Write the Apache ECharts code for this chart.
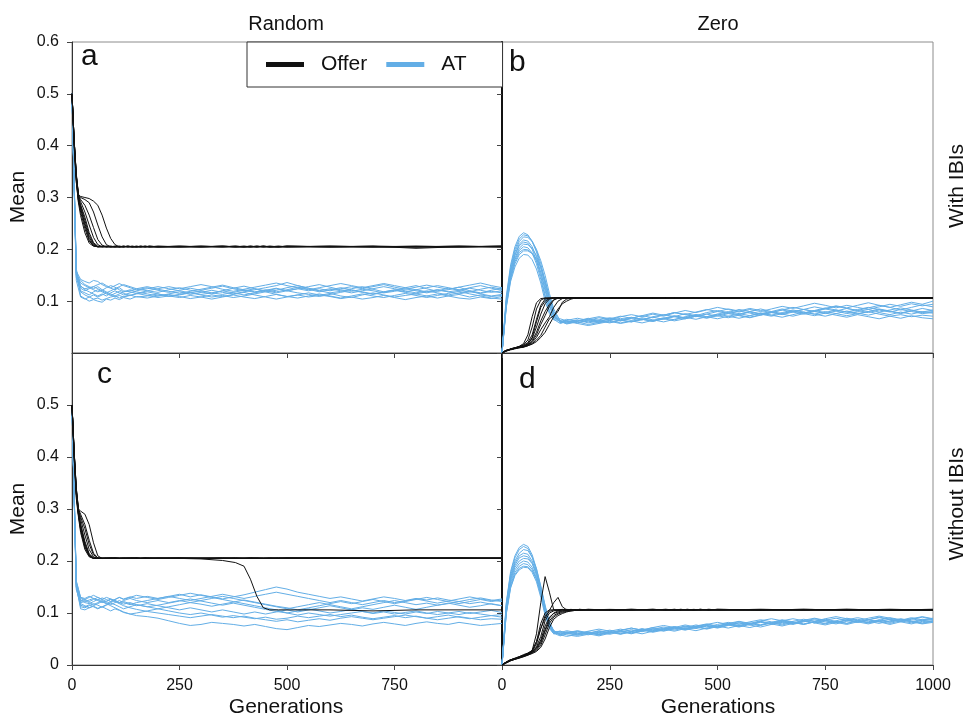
<!DOCTYPE html>
<html>
<head>
<meta charset="utf-8">
<script src="https://cdn.jsdelivr.net/npm/echarts/dist/echarts.min.js"></script>
<style>html,body{margin:0;padding:0;background:#fff;}#chart{width:967px;height:719px;}</style>
</head>
<body>
<div id="chart"></div>
<script>
// ---------- x values (generations) ----------
const genAT = [0,10,20,30,40,50,60,70,80,90,
  100,110,120,135,150,175,200,225,250,275,
  300,325,350,375,400,425,450,475,500,525,
  550,575,600,625,650,675,700,725,750,775,
  800,825,850,875,900,925,950,975,1000];
const genOffer = [0,5,10,15,20,30,40,50,60,70,
  80,90,100,110,120,130,140,150,160,170,
  180,200,250,300,350,380,400,415,430,445,
  460,480,500,600,700,800,900,1000];

// ---------- tick labels / titles ----------
const colTitles = ['Random','Zero'];
const rowTitles = ['With IBIs','Without IBIs'];
const panelLetters = ['a','b','c','d'];
const xTicks = [0,250,500,750,1000];
const yTicks = [0,0.1,0.2,0.3,0.4,0.5,0.6];

// ---------- panel a (Random, with IBIs) ----------
const atA = [
 [0.5,0.158,0.142,0.138,0.135,0.14,0.138,0.132,0.128,0.125, 0.122,0.126,0.12,0.118,0.115,0.12,0.117,0.122,0.126,0.121, 0.118,0.114,0.12,0.125,0.129,0.124,0.118,0.121,0.126,0.13, 0.125,0.12,0.116,0.119,0.124,0.128,0.123,0.118,0.121,0.126, 0.13,0.124,0.119,0.122,0.127,0.12,0.116,0.121,0.125],
 [0.5,0.152,0.118,0.112,0.108,0.104,0.106,0.102,0.105,0.108, 0.11,0.106,0.109,0.112,0.108,0.11,0.114,0.109,0.112,0.116, 0.112,0.108,0.111,0.107,0.11,0.114,0.118,0.113,0.109,0.112, 0.108,0.111,0.115,0.11,0.107,0.112,0.116,0.112,0.108,0.111, 0.114,0.11,0.106,0.11,0.113,0.108,0.112,0.109,0.111],
 [0.5,0.148,0.128,0.124,0.126,0.122,0.118,0.121,0.126,0.13, 0.127,0.122,0.118,0.12,0.124,0.128,0.123,0.119,0.115,0.119, 0.123,0.127,0.131,0.126,0.122,0.118,0.121,0.125,0.12,0.124, 0.128,0.132,0.127,0.122,0.119,0.123,0.12,0.116,0.119,0.124, 0.12,0.116,0.12,0.125,0.121,0.126,0.13,0.125,0.121],
 [0.5,0.16,0.11,0.105,0.1,0.103,0.1,0.098,0.104,0.102, 0.106,0.103,0.107,0.104,0.109,0.106,0.11,0.113,0.109,0.105, 0.108,0.112,0.109,0.113,0.117,0.112,0.108,0.104,0.108,0.112, 0.116,0.112,0.109,0.105,0.108,0.104,0.107,0.111,0.107,0.103, 0.107,0.11,0.114,0.11,0.106,0.104,0.108,0.105,0.109],
 [0.5,0.155,0.135,0.13,0.126,0.128,0.124,0.12,0.116,0.12, 0.124,0.128,0.132,0.128,0.124,0.12,0.124,0.128,0.124,0.128, 0.132,0.128,0.123,0.119,0.123,0.127,0.131,0.135,0.13,0.126, 0.122,0.126,0.13,0.134,0.13,0.126,0.13,0.134,0.13,0.126, 0.122,0.126,0.13,0.126,0.122,0.118,0.123,0.127,0.123],
 [0.5,0.145,0.12,0.116,0.112,0.118,0.122,0.118,0.114,0.111, 0.115,0.119,0.115,0.111,0.114,0.118,0.114,0.11,0.113,0.117, 0.113,0.116,0.12,0.116,0.112,0.116,0.12,0.124,0.12,0.116, 0.113,0.109,0.113,0.117,0.121,0.117,0.113,0.117,0.121,0.117, 0.114,0.118,0.122,0.118,0.114,0.118,0.115,0.119,0.116],
 [0.5,0.15,0.14,0.132,0.128,0.124,0.128,0.122,0.118,0.114, 0.11,0.114,0.118,0.122,0.118,0.114,0.11,0.114,0.118,0.113, 0.117,0.121,0.117,0.114,0.118,0.122,0.126,0.13,0.136,0.13, 0.125,0.12,0.124,0.12,0.116,0.12,0.124,0.128,0.124,0.12, 0.116,0.12,0.116,0.112,0.116,0.12,0.114,0.11,0.113],
 [0.5,0.162,0.125,0.12,0.124,0.128,0.132,0.135,0.13,0.126, 0.13,0.134,0.13,0.126,0.122,0.126,0.121,0.117,0.121,0.125, 0.121,0.125,0.129,0.124,0.12,0.124,0.12,0.116,0.12,0.124, 0.12,0.124,0.12,0.124,0.128,0.124,0.128,0.132,0.127,0.123, 0.127,0.131,0.127,0.123,0.127,0.131,0.135,0.13,0.126],
 [0.5,0.14,0.108,0.104,0.108,0.112,0.108,0.112,0.116,0.112, 0.108,0.111,0.108,0.111,0.115,0.111,0.107,0.11,0.107,0.111, 0.108,0.104,0.108,0.112,0.108,0.105,0.109,0.113,0.109,0.106, 0.11,0.114,0.11,0.106,0.11,0.114,0.11,0.107,0.111,0.115, 0.111,0.107,0.111,0.115,0.119,0.114,0.11,0.106,0.104],
 [0.5,0.155,0.13,0.122,0.118,0.114,0.11,0.114,0.11,0.116, 0.12,0.116,0.112,0.116,0.12,0.124,0.128,0.124,0.12,0.116, 0.12,0.116,0.113,0.117,0.121,0.117,0.122,0.118,0.122,0.127, 0.123,0.118,0.122,0.126,0.122,0.118,0.114,0.118,0.122,0.118, 0.122,0.118,0.122,0.118,0.121,0.125,0.121,0.117,0.12]
];
const offerA = [
 [0.5,0.4,0.33,0.29,0.265,0.232,0.212,0.206,0.205,0.205, 0.206,0.205,0.205,0.205,0.206,0.205,0.205,0.205,0.206,0.205, 0.205,0.205,0.206,0.205,0.205,0.206,0.205,0.205,0.206,0.205, 0.205,0.206,0.205,0.205,0.206,0.205,0.205,0.206],
 [0.5,0.405,0.335,0.295,0.272,0.24,0.216,0.207,0.205,0.206, 0.205,0.205,0.206,0.205,0.205,0.205,0.206,0.205,0.205,0.206, 0.205,0.206,0.205,0.205,0.205,0.206,0.205,0.206,0.205,0.205, 0.206,0.205,0.205,0.205,0.206,0.205,0.206,0.205],
 [0.5,0.41,0.34,0.3,0.28,0.25,0.223,0.209,0.205,0.205, 0.205,0.206,0.205,0.205,0.206,0.205,0.205,0.206,0.205,0.205, 0.206,0.205,0.205,0.206,0.205,0.205,0.206,0.205,0.205,0.206, 0.205,0.205,0.206,0.205,0.205,0.205,0.206,0.205],
 [0.5,0.41,0.34,0.302,0.286,0.262,0.232,0.213,0.206,0.205, 0.205,0.205,0.206,0.205,0.205,0.206,0.205,0.205,0.205,0.206, 0.205,0.205,0.206,0.205,0.206,0.205,0.205,0.205,0.206,0.205, 0.205,0.206,0.205,0.206,0.205,0.205,0.205,0.206],
 [0.5,0.41,0.342,0.303,0.292,0.272,0.247,0.223,0.209,0.205, 0.205,0.206,0.205,0.205,0.205,0.206,0.205,0.205,0.206,0.205, 0.205,0.206,0.205,0.205,0.206,0.205,0.205,0.206,0.205,0.205, 0.205,0.205,0.206,0.205,0.205,0.206,0.205,0.205],
 [0.5,0.41,0.342,0.305,0.296,0.285,0.266,0.242,0.219,0.208, 0.205,0.205,0.205,0.206,0.205,0.205,0.205,0.206,0.205,0.205, 0.206,0.205,0.205,0.206,0.205,0.205,0.205,0.206,0.205,0.206, 0.205,0.205,0.205,0.206,0.205,0.205,0.206,0.205],
 [0.5,0.41,0.345,0.305,0.3,0.296,0.29,0.272,0.247,0.224, 0.209,0.205,0.205,0.205,0.206,0.205,0.205,0.205,0.206,0.205, 0.205,0.205,0.206,0.205,0.205,0.206,0.205,0.205,0.205,0.206, 0.205,0.205,0.206,0.205,0.205,0.206,0.205,0.205],
 [0.5,0.41,0.345,0.306,0.302,0.3,0.298,0.293,0.285,0.266, 0.241,0.221,0.209,0.205,0.205,0.206,0.205,0.205,0.205,0.206, 0.205,0.205,0.205,0.206,0.205,0.205,0.206,0.205,0.205,0.205, 0.206,0.205,0.205,0.205,0.206,0.202,0.205,0.206],
 [0.5,0.405,0.335,0.296,0.284,0.256,0.227,0.211,0.205,0.205, 0.206,0.205,0.205,0.205,0.205,0.206,0.205,0.205,0.205,0.205, 0.206,0.205,0.205,0.205,0.206,0.205,0.205,0.205,0.206,0.205, 0.205,0.205,0.205,0.206,0.205,0.205,0.205,0.205],
 [0.5,0.4,0.33,0.292,0.278,0.246,0.219,0.207,0.205,0.206, 0.205,0.205,0.205,0.206,0.205,0.205,0.206,0.205,0.205,0.205, 0.205,0.205,0.205,0.205,0.206,0.205,0.205,0.205,0.205,0.206, 0.205,0.205,0.206,0.205,0.205,0.205,0.205,0.206]
];

// ---------- panel b (Zero, with IBIs) ----------
const atB = [
 [0,0.11,0.17,0.205,0.225,0.232,0.228,0.215,0.195,0.165, 0.13,0.095,0.072,0.06,0.062,0.058,0.064,0.06,0.066,0.062, 0.068,0.064,0.07,0.074,0.07,0.076,0.072,0.078,0.082,0.078, 0.084,0.08,0.076,0.08,0.085,0.081,0.077,0.082,0.087,0.083, 0.079,0.084,0.088,0.084,0.08,0.076,0.081,0.086,0.082],
 [0,0.105,0.165,0.2,0.22,0.228,0.226,0.216,0.198,0.172, 0.14,0.105,0.078,0.058,0.06,0.064,0.058,0.062,0.058,0.063, 0.06,0.066,0.062,0.067,0.072,0.068,0.074,0.07,0.075,0.08, 0.076,0.072,0.077,0.073,0.078,0.083,0.079,0.075,0.08,0.076, 0.072,0.076,0.08,0.075,0.071,0.074,0.07,0.073,0.071],
 [0,0.1,0.16,0.195,0.215,0.224,0.223,0.215,0.2,0.178, 0.15,0.115,0.085,0.062,0.056,0.06,0.055,0.059,0.063,0.058, 0.062,0.058,0.063,0.068,0.064,0.07,0.074,0.07,0.066,0.071, 0.075,0.08,0.085,0.08,0.076,0.08,0.084,0.089,0.085,0.09, 0.086,0.082,0.087,0.092,0.088,0.083,0.088,0.093,0.089],
 [0,0.1,0.158,0.19,0.21,0.218,0.216,0.205,0.185,0.155, 0.12,0.09,0.07,0.06,0.065,0.061,0.066,0.07,0.066,0.071, 0.067,0.072,0.077,0.073,0.078,0.074,0.079,0.084,0.08,0.085, 0.081,0.086,0.082,0.078,0.083,0.088,0.084,0.08,0.086,0.091, 0.087,0.092,0.097,0.092,0.088,0.093,0.098,0.094,0.1],
 [0,0.098,0.155,0.188,0.207,0.214,0.212,0.2,0.178,0.148, 0.112,0.082,0.065,0.057,0.061,0.057,0.053,0.057,0.061,0.057, 0.061,0.065,0.061,0.066,0.062,0.066,0.071,0.067,0.072,0.068, 0.073,0.069,0.074,0.079,0.075,0.071,0.076,0.072,0.077,0.073, 0.069,0.074,0.07,0.066,0.071,0.067,0.072,0.068,0.066],
 [0,0.095,0.15,0.183,0.202,0.21,0.209,0.202,0.188,0.165, 0.135,0.1,0.075,0.059,0.063,0.067,0.063,0.068,0.064,0.07, 0.074,0.07,0.075,0.071,0.077,0.082,0.078,0.083,0.088,0.084, 0.079,0.084,0.08,0.085,0.09,0.086,0.091,0.096,0.092,0.087, 0.092,0.088,0.084,0.089,0.094,0.09,0.095,0.091,0.094],
 [0,0.095,0.148,0.18,0.198,0.205,0.203,0.193,0.172,0.142, 0.108,0.08,0.066,0.066,0.062,0.058,0.062,0.058,0.063,0.067, 0.063,0.068,0.064,0.06,0.065,0.069,0.065,0.07,0.075,0.071, 0.067,0.072,0.077,0.073,0.069,0.074,0.079,0.075,0.071,0.076, 0.081,0.077,0.073,0.078,0.074,0.079,0.075,0.08,0.077],
 [0,0.092,0.145,0.176,0.194,0.2,0.199,0.192,0.178,0.155, 0.125,0.092,0.07,0.06,0.057,0.061,0.065,0.061,0.066,0.062, 0.067,0.072,0.068,0.073,0.078,0.074,0.07,0.075,0.08,0.076, 0.081,0.077,0.073,0.078,0.083,0.079,0.084,0.08,0.076,0.081, 0.086,0.082,0.078,0.083,0.079,0.084,0.08,0.076,0.078],
 [0,0.09,0.142,0.172,0.19,0.197,0.197,0.192,0.182,0.165, 0.14,0.108,0.08,0.062,0.058,0.062,0.067,0.063,0.059,0.064, 0.069,0.065,0.061,0.066,0.071,0.067,0.072,0.068,0.073,0.078, 0.074,0.079,0.075,0.071,0.076,0.081,0.077,0.082,0.078,0.083, 0.079,0.075,0.08,0.085,0.081,0.077,0.082,0.078,0.08],
 [0,0.088,0.138,0.166,0.183,0.19,0.189,0.18,0.162,0.135, 0.1,0.076,0.064,0.063,0.059,0.063,0.06,0.064,0.068,0.064, 0.06,0.064,0.069,0.065,0.07,0.066,0.071,0.075,0.071,0.076, 0.072,0.068,0.073,0.078,0.074,0.079,0.075,0.08,0.085,0.081, 0.076,0.08,0.084,0.079,0.083,0.087,0.083,0.079,0.083]
];
const offerB = [
 [0,0.003,0.005,0.006,0.008,0.01,0.013,0.018,0.035,0.07, 0.097,0.105,0.106,0.106,0.107,0.106,0.106,0.107,0.106,0.106, 0.106,0.107,0.106,0.107,0.106,0.107,0.106,0.107,0.106,0.107, 0.106,0.107,0.106,0.107,0.106,0.107,0.106,0.107],
 [0,0.003,0.005,0.006,0.008,0.01,0.012,0.016,0.025,0.05, 0.085,0.102,0.106,0.106,0.106,0.107,0.106,0.106,0.107,0.106, 0.107,0.106,0.106,0.107,0.106,0.106,0.107,0.106,0.106,0.107, 0.106,0.106,0.107,0.106,0.107,0.106,0.106,0.107],
 [0,0.003,0.005,0.006,0.007,0.009,0.012,0.015,0.02,0.035, 0.065,0.092,0.104,0.106,0.106,0.106,0.107,0.106,0.106,0.106, 0.106,0.106,0.107,0.106,0.106,0.107,0.106,0.106,0.107,0.106, 0.107,0.106,0.106,0.106,0.107,0.106,0.107,0.106],
 [0,0.003,0.005,0.006,0.007,0.01,0.012,0.014,0.018,0.028, 0.05,0.075,0.095,0.104,0.106,0.106,0.106,0.107,0.106,0.106, 0.107,0.106,0.106,0.106,0.107,0.106,0.106,0.107,0.106,0.106, 0.106,0.107,0.106,0.107,0.106,0.106,0.107,0.106],
 [0,0.002,0.004,0.006,0.007,0.009,0.011,0.013,0.016,0.024, 0.04,0.062,0.08,0.094,0.103,0.106,0.106,0.106,0.107,0.106, 0.106,0.107,0.106,0.106,0.106,0.107,0.106,0.106,0.106,0.107, 0.106,0.106,0.107,0.106,0.106,0.107,0.106,0.107],
 [0,0.002,0.004,0.006,0.007,0.009,0.011,0.012,0.015,0.02, 0.03,0.045,0.058,0.07,0.088,0.1,0.105,0.106,0.106,0.107, 0.106,0.106,0.106,0.107,0.106,0.106,0.107,0.106,0.107,0.106, 0.106,0.106,0.107,0.106,0.107,0.106,0.106,0.106],
 [0,0.002,0.004,0.005,0.007,0.009,0.01,0.012,0.014,0.018, 0.025,0.034,0.05,0.066,0.072,0.08,0.098,0.104,0.106,0.106, 0.107,0.106,0.107,0.106,0.106,0.106,0.107,0.106,0.106,0.106, 0.107,0.106,0.106,0.107,0.106,0.106,0.107,0.106],
 [0,0.002,0.004,0.005,0.006,0.008,0.01,0.011,0.014,0.017, 0.022,0.03,0.04,0.055,0.07,0.085,0.095,0.1,0.104,0.106, 0.106,0.106,0.106,0.106,0.107,0.106,0.106,0.106,0.107,0.106, 0.106,0.107,0.106,0.106,0.106,0.107,0.106,0.106],
 [0,0.003,0.005,0.006,0.008,0.01,0.012,0.013,0.017,0.03, 0.06,0.088,0.1,0.105,0.106,0.106,0.107,0.106,0.106,0.106, 0.106,0.107,0.106,0.106,0.107,0.106,0.106,0.106,0.106,0.107, 0.106,0.106,0.106,0.107,0.106,0.107,0.106,0.107],
 [0,0.002,0.004,0.006,0.007,0.009,0.011,0.012,0.016,0.022, 0.035,0.055,0.072,0.09,0.102,0.106,0.106,0.106,0.106,0.107, 0.106,0.106,0.107,0.106,0.106,0.106,0.106,0.107,0.106,0.106, 0.107,0.106,0.106,0.106,0.106,0.106,0.107,0.106]
];

// ---------- panel c (Random, without IBIs) ----------
const atC = [
 [0.5,0.155,0.125,0.12,0.118,0.122,0.126,0.122,0.118,0.114, 0.11,0.106,0.102,0.098,0.095,0.093,0.09,0.085,0.08,0.076, 0.078,0.082,0.08,0.078,0.075,0.078,0.074,0.07,0.068,0.072, 0.076,0.074,0.077,0.08,0.078,0.075,0.079,0.082,0.079,0.076, 0.08,0.083,0.08,0.078,0.082,0.079,0.076,0.078,0.08],
 [0.5,0.15,0.12,0.122,0.125,0.128,0.124,0.12,0.123,0.127, 0.124,0.12,0.117,0.12,0.116,0.112,0.108,0.104,0.1,0.097, 0.1,0.096,0.092,0.095,0.092,0.089,0.092,0.088,0.09,0.094, 0.091,0.094,0.097,0.093,0.096,0.092,0.089,0.092,0.095,0.091, 0.094,0.09,0.087,0.09,0.093,0.09,0.087,0.089,0.088],
 [0.5,0.16,0.13,0.128,0.132,0.128,0.125,0.129,0.126,0.122, 0.126,0.13,0.127,0.131,0.128,0.132,0.128,0.132,0.136,0.131, 0.135,0.131,0.127,0.131,0.135,0.14,0.145,0.15,0.146,0.14, 0.136,0.132,0.128,0.131,0.127,0.123,0.127,0.131,0.128,0.124, 0.128,0.125,0.129,0.125,0.122,0.126,0.129,0.125,0.122],
 [0.5,0.148,0.112,0.11,0.114,0.118,0.115,0.111,0.115,0.119, 0.116,0.112,0.108,0.112,0.116,0.112,0.115,0.119,0.123,0.127, 0.123,0.119,0.115,0.119,0.115,0.111,0.107,0.103,0.1,0.104, 0.108,0.104,0.1,0.103,0.107,0.103,0.099,0.102,0.098,0.101, 0.104,0.1,0.097,0.1,0.103,0.099,0.102,0.105,0.101],
 [0.5,0.152,0.108,0.106,0.11,0.114,0.118,0.122,0.118,0.122, 0.126,0.13,0.126,0.13,0.134,0.13,0.126,0.13,0.134,0.138, 0.134,0.13,0.126,0.122,0.118,0.114,0.11,0.106,0.1,0.096, 0.1,0.097,0.094,0.097,0.1,0.103,0.1,0.104,0.101,0.098, 0.102,0.099,0.103,0.1,0.097,0.101,0.098,0.095,0.097],
 [0.5,0.158,0.128,0.124,0.12,0.116,0.12,0.124,0.12,0.116, 0.12,0.124,0.12,0.116,0.12,0.124,0.128,0.132,0.128,0.124, 0.128,0.132,0.136,0.132,0.128,0.132,0.136,0.14,0.136,0.132, 0.128,0.124,0.12,0.124,0.12,0.116,0.12,0.124,0.12,0.123, 0.127,0.123,0.119,0.123,0.127,0.131,0.127,0.124,0.127],
 [0.5,0.145,0.118,0.114,0.11,0.113,0.109,0.112,0.108,0.104, 0.108,0.105,0.101,0.098,0.1,0.104,0.108,0.112,0.116,0.12, 0.124,0.128,0.132,0.128,0.124,0.12,0.116,0.112,0.108,0.112, 0.116,0.12,0.116,0.112,0.108,0.112,0.116,0.12,0.124,0.12, 0.116,0.119,0.115,0.118,0.122,0.118,0.121,0.117,0.114],
 [0.5,0.15,0.122,0.126,0.122,0.126,0.13,0.126,0.13,0.127, 0.123,0.119,0.122,0.118,0.114,0.118,0.114,0.11,0.106,0.11, 0.106,0.102,0.106,0.102,0.098,0.102,0.098,0.102,0.106,0.102, 0.106,0.11,0.114,0.11,0.106,0.11,0.107,0.111,0.115,0.111, 0.107,0.111,0.115,0.119,0.115,0.111,0.114,0.118,0.114],
 [0.5,0.156,0.115,0.112,0.116,0.112,0.108,0.112,0.116,0.12, 0.124,0.12,0.124,0.128,0.124,0.12,0.124,0.12,0.124,0.12, 0.117,0.113,0.117,0.121,0.125,0.121,0.117,0.113,0.11,0.106, 0.11,0.114,0.118,0.122,0.118,0.122,0.126,0.122,0.118,0.122, 0.126,0.13,0.126,0.122,0.118,0.122,0.126,0.122,0.125],
 [0.5,0.162,0.13,0.126,0.13,0.134,0.13,0.126,0.122,0.126, 0.122,0.118,0.114,0.11,0.107,0.103,0.1,0.097,0.094,0.091, 0.094,0.097,0.094,0.091,0.094,0.09,0.087,0.084,0.087,0.083, 0.086,0.089,0.086,0.09,0.093,0.09,0.087,0.09,0.093,0.096, 0.093,0.09,0.093,0.096,0.092,0.089,0.092,0.095,0.092]
];
const offerC = [
 [0.5,0.4,0.32,0.285,0.255,0.222,0.208,0.205,0.205,0.206, 0.205,0.205,0.206,0.205,0.205,0.205,0.206,0.205,0.205,0.206, 0.205,0.205,0.206,0.205,0.205,0.206,0.205,0.205,0.205,0.206, 0.205,0.205,0.206,0.205,0.205,0.206,0.205,0.205],
 [0.5,0.405,0.33,0.29,0.262,0.228,0.21,0.205,0.205,0.205, 0.206,0.205,0.205,0.205,0.206,0.205,0.205,0.206,0.205,0.205, 0.206,0.205,0.205,0.205,0.206,0.205,0.205,0.206,0.205,0.205, 0.205,0.206,0.205,0.205,0.206,0.205,0.205,0.206],
 [0.5,0.41,0.335,0.295,0.272,0.238,0.214,0.206,0.205,0.205, 0.205,0.206,0.205,0.205,0.205,0.206,0.205,0.205,0.205,0.206, 0.205,0.206,0.205,0.205,0.205,0.205,0.206,0.205,0.205,0.205, 0.206,0.205,0.205,0.206,0.205,0.205,0.206,0.205],
 [0.5,0.41,0.335,0.297,0.28,0.25,0.222,0.208,0.205,0.205, 0.205,0.205,0.206,0.205,0.205,0.205,0.205,0.206,0.205,0.205, 0.205,0.205,0.205,0.206,0.205,0.205,0.205,0.205,0.206,0.205, 0.205,0.205,0.205,0.206,0.205,0.206,0.205,0.205],
 [0.5,0.41,0.34,0.3,0.29,0.27,0.24,0.215,0.206,0.205, 0.205,0.205,0.205,0.206,0.205,0.205,0.206,0.205,0.205,0.205, 0.206,0.205,0.205,0.205,0.205,0.206,0.205,0.205,0.205,0.205, 0.205,0.206,0.205,0.205,0.205,0.205,0.206,0.205],
 [0.5,0.41,0.34,0.3,0.296,0.29,0.27,0.235,0.21,0.205, 0.205,0.206,0.205,0.205,0.205,0.205,0.205,0.206,0.205,0.205, 0.205,0.205,0.206,0.205,0.205,0.205,0.205,0.206,0.205,0.205, 0.206,0.205,0.205,0.205,0.206,0.205,0.205,0.205],
 [0.5,0.4,0.325,0.288,0.26,0.226,0.209,0.205,0.205,0.205, 0.206,0.205,0.205,0.205,0.205,0.206,0.205,0.205,0.205,0.205, 0.205,0.206,0.205,0.205,0.205,0.205,0.205,0.205,0.206,0.205, 0.205,0.205,0.206,0.205,0.205,0.205,0.206,0.205],
 [0.5,0.405,0.33,0.292,0.268,0.234,0.212,0.206,0.205,0.205, 0.205,0.205,0.205,0.205,0.206,0.205,0.205,0.205,0.206,0.205, 0.205,0.205,0.205,0.205,0.206,0.205,0.205,0.205,0.205,0.205, 0.205,0.205,0.206,0.205,0.205,0.206,0.205,0.205],
 [0.5,0.41,0.338,0.298,0.285,0.262,0.232,0.212,0.206,0.205, 0.205,0.205,0.206,0.205,0.205,0.205,0.205,0.205,0.205,0.206, 0.205,0.205,0.205,0.204,0.201,0.197,0.19,0.165,0.132,0.11, 0.106,0.106,0.106,0.106,0.104,0.106,0.106,0.106],
 [0.5,0.4,0.33,0.29,0.265,0.232,0.211,0.205,0.205,0.205, 0.205,0.206,0.205,0.205,0.205,0.205,0.206,0.205,0.205,0.205, 0.205,0.205,0.206,0.205,0.205,0.205,0.205,0.206,0.205,0.205, 0.205,0.205,0.205,0.206,0.205,0.205,0.205,0.206]
];

// ---------- panel d (Zero, without IBIs) ----------
const atD = [
 [0,0.12,0.18,0.21,0.226,0.232,0.228,0.212,0.185,0.15, 0.112,0.08,0.065,0.058,0.062,0.066,0.062,0.058,0.063,0.059, 0.064,0.068,0.064,0.069,0.073,0.069,0.074,0.078,0.074,0.079, 0.083,0.079,0.084,0.08,0.085,0.089,0.085,0.081,0.086,0.09, 0.086,0.082,0.087,0.091,0.087,0.083,0.088,0.092,0.088],
 [0,0.118,0.176,0.206,0.222,0.228,0.224,0.208,0.18,0.142, 0.104,0.074,0.06,0.062,0.058,0.055,0.059,0.063,0.059,0.064, 0.06,0.065,0.069,0.065,0.07,0.075,0.071,0.076,0.072,0.077, 0.073,0.078,0.083,0.079,0.075,0.08,0.085,0.081,0.077,0.082, 0.087,0.083,0.079,0.084,0.08,0.085,0.081,0.086,0.083],
 [0,0.115,0.172,0.2,0.215,0.222,0.22,0.207,0.185,0.152, 0.115,0.082,0.066,0.059,0.063,0.06,0.064,0.06,0.065,0.069, 0.065,0.07,0.066,0.071,0.067,0.072,0.077,0.073,0.078,0.082, 0.078,0.083,0.087,0.083,0.079,0.084,0.088,0.084,0.089,0.093, 0.089,0.085,0.09,0.094,0.09,0.086,0.091,0.087,0.09],
 [0,0.112,0.168,0.196,0.21,0.215,0.213,0.2,0.178,0.145, 0.108,0.077,0.063,0.065,0.061,0.057,0.061,0.065,0.061,0.066, 0.071,0.067,0.072,0.068,0.073,0.069,0.074,0.07,0.075,0.08, 0.076,0.081,0.077,0.082,0.087,0.083,0.079,0.084,0.08,0.085, 0.09,0.086,0.082,0.087,0.083,0.088,0.084,0.08,0.084],
 [0,0.11,0.165,0.192,0.206,0.21,0.208,0.196,0.172,0.138, 0.1,0.072,0.061,0.056,0.06,0.064,0.06,0.056,0.061,0.065, 0.061,0.066,0.07,0.066,0.071,0.067,0.072,0.076,0.072,0.077, 0.081,0.077,0.073,0.078,0.082,0.078,0.083,0.087,0.083,0.079, 0.084,0.088,0.084,0.08,0.085,0.089,0.085,0.081,0.085],
 [0,0.108,0.162,0.188,0.2,0.205,0.204,0.195,0.176,0.148, 0.112,0.082,0.066,0.06,0.064,0.06,0.065,0.069,0.065,0.06, 0.065,0.069,0.065,0.07,0.074,0.07,0.075,0.079,0.075,0.08, 0.084,0.08,0.085,0.089,0.085,0.081,0.086,0.09,0.086,0.082, 0.087,0.091,0.087,0.092,0.088,0.084,0.089,0.093,0.089],
 [0,0.105,0.158,0.183,0.195,0.2,0.198,0.188,0.168,0.138, 0.102,0.075,0.063,0.058,0.055,0.059,0.063,0.059,0.064,0.06, 0.064,0.06,0.065,0.069,0.065,0.07,0.066,0.071,0.075,0.071, 0.076,0.072,0.077,0.081,0.077,0.082,0.078,0.083,0.079,0.084, 0.08,0.085,0.081,0.086,0.082,0.087,0.083,0.079,0.082],
 [0,0.102,0.154,0.178,0.19,0.195,0.193,0.184,0.165,0.135, 0.1,0.074,0.063,0.065,0.061,0.065,0.061,0.066,0.062,0.067, 0.071,0.067,0.072,0.076,0.072,0.077,0.073,0.078,0.082,0.078, 0.074,0.079,0.083,0.079,0.084,0.08,0.085,0.081,0.086,0.082, 0.078,0.083,0.087,0.083,0.088,0.084,0.089,0.085,0.088],
 [0,0.1,0.15,0.174,0.186,0.19,0.189,0.181,0.165,0.138, 0.105,0.078,0.064,0.058,0.062,0.058,0.062,0.058,0.062,0.066, 0.062,0.067,0.063,0.067,0.072,0.068,0.073,0.069,0.074,0.079, 0.075,0.08,0.076,0.081,0.086,0.082,0.078,0.083,0.088,0.084, 0.08,0.085,0.081,0.086,0.091,0.087,0.083,0.088,0.086],
 [0,0.098,0.148,0.172,0.183,0.188,0.187,0.178,0.16,0.13, 0.096,0.07,0.06,0.062,0.066,0.062,0.058,0.063,0.067,0.063, 0.068,0.064,0.069,0.073,0.069,0.074,0.07,0.075,0.071,0.076, 0.081,0.077,0.082,0.078,0.083,0.079,0.084,0.089,0.085,0.081, 0.086,0.082,0.087,0.083,0.078,0.083,0.079,0.084,0.082]
];
const offerD = [
 [0,0.003,0.006,0.008,0.01,0.013,0.016,0.02,0.023,0.028, 0.06,0.12,0.17,0.14,0.106,0.105,0.106,0.106,0.106,0.106, 0.107,0.106,0.106,0.107,0.106,0.106,0.107,0.106,0.106,0.107, 0.106,0.106,0.107,0.106,0.106,0.107,0.106,0.107],
 [0,0.003,0.006,0.008,0.01,0.013,0.016,0.019,0.022,0.027, 0.045,0.07,0.09,0.105,0.12,0.13,0.112,0.106,0.106,0.106, 0.106,0.107,0.106,0.106,0.107,0.106,0.106,0.106,0.107,0.106, 0.106,0.107,0.106,0.106,0.106,0.107,0.106,0.106],
 [0,0.003,0.005,0.008,0.01,0.012,0.015,0.018,0.022,0.027, 0.04,0.07,0.095,0.103,0.106,0.106,0.106,0.107,0.106,0.106, 0.106,0.106,0.107,0.106,0.106,0.106,0.106,0.107,0.106,0.106, 0.107,0.106,0.106,0.106,0.107,0.106,0.106,0.106],
 [0,0.003,0.005,0.007,0.009,0.012,0.015,0.018,0.021,0.026, 0.035,0.055,0.085,0.1,0.104,0.106,0.106,0.106,0.107,0.106, 0.106,0.106,0.106,0.106,0.107,0.106,0.106,0.106,0.106,0.106, 0.106,0.107,0.106,0.106,0.106,0.106,0.107,0.106],
 [0,0.003,0.005,0.007,0.009,0.012,0.015,0.017,0.02,0.025, 0.033,0.048,0.075,0.092,0.099,0.102,0.104,0.105,0.106,0.106, 0.106,0.107,0.106,0.106,0.106,0.107,0.106,0.106,0.106,0.106, 0.107,0.106,0.106,0.107,0.106,0.106,0.106,0.106],
 [0,0.002,0.005,0.007,0.009,0.011,0.014,0.017,0.02,0.024, 0.03,0.042,0.065,0.085,0.095,0.1,0.103,0.104,0.105,0.106, 0.106,0.106,0.106,0.107,0.106,0.106,0.106,0.106,0.107,0.106, 0.106,0.106,0.107,0.106,0.107,0.106,0.106,0.106],
 [0,0.002,0.004,0.006,0.008,0.011,0.014,0.016,0.019,0.023, 0.028,0.038,0.058,0.08,0.092,0.098,0.101,0.103,0.104,0.105, 0.106,0.106,0.106,0.106,0.106,0.107,0.106,0.106,0.106,0.106, 0.106,0.106,0.106,0.107,0.106,0.106,0.107,0.106],
 [0,0.002,0.004,0.006,0.008,0.011,0.013,0.016,0.019,0.022, 0.026,0.034,0.05,0.072,0.088,0.095,0.099,0.102,0.104,0.105, 0.105,0.106,0.106,0.106,0.107,0.106,0.106,0.106,0.106,0.106, 0.107,0.106,0.106,0.106,0.106,0.107,0.106,0.107],
 [0,0.003,0.005,0.008,0.01,0.012,0.015,0.018,0.022,0.028, 0.045,0.08,0.1,0.106,0.106,0.106,0.107,0.106,0.106,0.106, 0.106,0.106,0.106,0.107,0.106,0.106,0.106,0.107,0.106,0.106, 0.106,0.106,0.107,0.106,0.106,0.106,0.106,0.106],
 [0,0.002,0.005,0.007,0.009,0.012,0.014,0.017,0.021,0.025, 0.032,0.045,0.068,0.09,0.1,0.104,0.106,0.106,0.106,0.106, 0.107,0.106,0.106,0.106,0.106,0.106,0.107,0.106,0.106,0.106, 0.106,0.106,0.106,0.106,0.107,0.106,0.106,0.106]
];

// ---------- build chart ----------
const BLUE = '#63aee6';
const BLACK = '#111111';
const FONT = '"Liberation Sans", Arial, Helvetica, sans-serif';
const panels = [
  {at: atA, offer: offerA},
  {at: atB, offer: offerB},
  {at: atC, offer: offerC},
  {at: atD, offer: offerD}
];
const gridPos = [
  {left: 72, top: 42, width: 430, height: 311},
  {left: 502, top: 42, width: 431, height: 311},
  {left: 72, top: 353, width: 430, height: 312},
  {left: 502, top: 353, width: 431, height: 312}
];

const grids = gridPos.map(g => Object.assign({show: true, borderColor: '#8c8c8c', borderWidth: 1, backgroundColor: 'transparent'}, g));

const xAxes = gridPos.map((g, p) => ({
  type: 'value', gridIndex: p, min: xTicks[0], max: xTicks[xTicks.length - 1], interval: xTicks[1] - xTicks[0],
  axisLine: {show: true, lineStyle: {color: '#333', width: 1}},
  axisTick: {show: true, inside: false, length: 5, lineStyle: {color: '#444'}},
  axisLabel: {show: p >= 2, fontSize: 16, color: '#111', fontFamily: FONT, margin: 13, showMaxLabel: p === 3, showMinLabel: true,
    formatter: v => String(v)},
  splitLine: {show: false}
}));

const yAxes = gridPos.map((g, p) => ({
  type: 'value', gridIndex: p, min: yTicks[0], max: yTicks[yTicks.length - 1], interval: yTicks[1] - yTicks[0],
  axisLine: {show: true, onZero: false, lineStyle: {color: (p % 2 === 1) ? '#111' : '#333', width: (p % 2 === 1) ? 2 : 1}},
  axisTick: {show: true, inside: false, length: 5, lineStyle: {color: '#444'}},
  axisLabel: {show: p % 2 === 0, fontSize: 16, color: '#111', fontFamily: FONT, margin: 13,
    showMinLabel: p !== 0, showMaxLabel: p !== 2,
    formatter: v => (Math.round(v * 10) / 10).toString()},
  splitLine: {show: false}
}));

const series = [];
panels.forEach((pd, p) => {
  pd.at.forEach(vals => {
    series.push({
      type: 'line', name: 'AT', xAxisIndex: p, yAxisIndex: p,
      data: genAT.map((g, i) => [g, vals[i]]),
      showSymbol: false, symbol: 'none', silent: true, z: 2,
      lineStyle: {width: 1, color: BLUE}, itemStyle: {color: BLUE}
    });
  });
});
panels.forEach((pd, p) => {
  pd.offer.forEach(vals => {
    series.push({
      type: 'line', name: 'Offer', xAxisIndex: p, yAxisIndex: p,
      data: genOffer.map((g, i) => [g, vals[i]]),
      showSymbol: false, symbol: 'none', silent: true, z: 3,
      lineStyle: {width: 1, color: BLACK}, itemStyle: {color: BLACK}
    });
  });
});

const textStyleBase = {fill: '#111', fontFamily: FONT};
function txt(x, y, text, size, rot, align) {
  const o = {type: 'text', x: x, y: y, silent: true,
    style: Object.assign({text: text, fontSize: size, textAlign: align || 'center', textVerticalAlign: 'middle'}, textStyleBase)};
  if (rot) o.rotation = rot;
  return o;
}
const graphics = [
  txt(286, 24, colTitles[0], 20),
  txt(718, 24, colTitles[1], 20),
  txt(286, 707, 'Generations', 21),
  txt(718, 707, 'Generations', 21),
  txt(18, 197, 'Mean', 21, Math.PI / 2),
  txt(18, 509, 'Mean', 21, Math.PI / 2),
  txt(957, 186, rowTitles[0], 21, Math.PI / 2),
  txt(957, 504, rowTitles[1], 21, Math.PI / 2),
  txt(81, 57, panelLetters[0], 30, 0, 'left'),
  txt(509, 63, panelLetters[1], 30, 0, 'left'),
  txt(97, 375, panelLetters[2], 30, 0, 'left'),
  txt(519, 380, panelLetters[3], 30, 0, 'left')
];

const chart = echarts.init(document.getElementById('chart'), null, {renderer: 'canvas'});
chart.setOption({
  animation: false,
  backgroundColor: '#ffffff',
  textStyle: {fontFamily: FONT},
  grid: grids,
  xAxis: xAxes,
  yAxis: yAxes,
  legend: {
    data: ['Offer', 'AT'],
    left: 247, top: 42,
    orient: 'horizontal',
    icon: 'rect', itemWidth: 38, itemHeight: 5, itemGap: 19,
    padding: [12, 36, 12, 19],
    borderColor: '#333', borderWidth: 1, backgroundColor: '#fff',
    selectedMode: false,
    textStyle: {fontSize: 21, color: '#111', fontFamily: FONT, padding: [0, 0, 0, 12]}
  },
  graphic: graphics,
  series: series
});
</script>
</body>
</html>
